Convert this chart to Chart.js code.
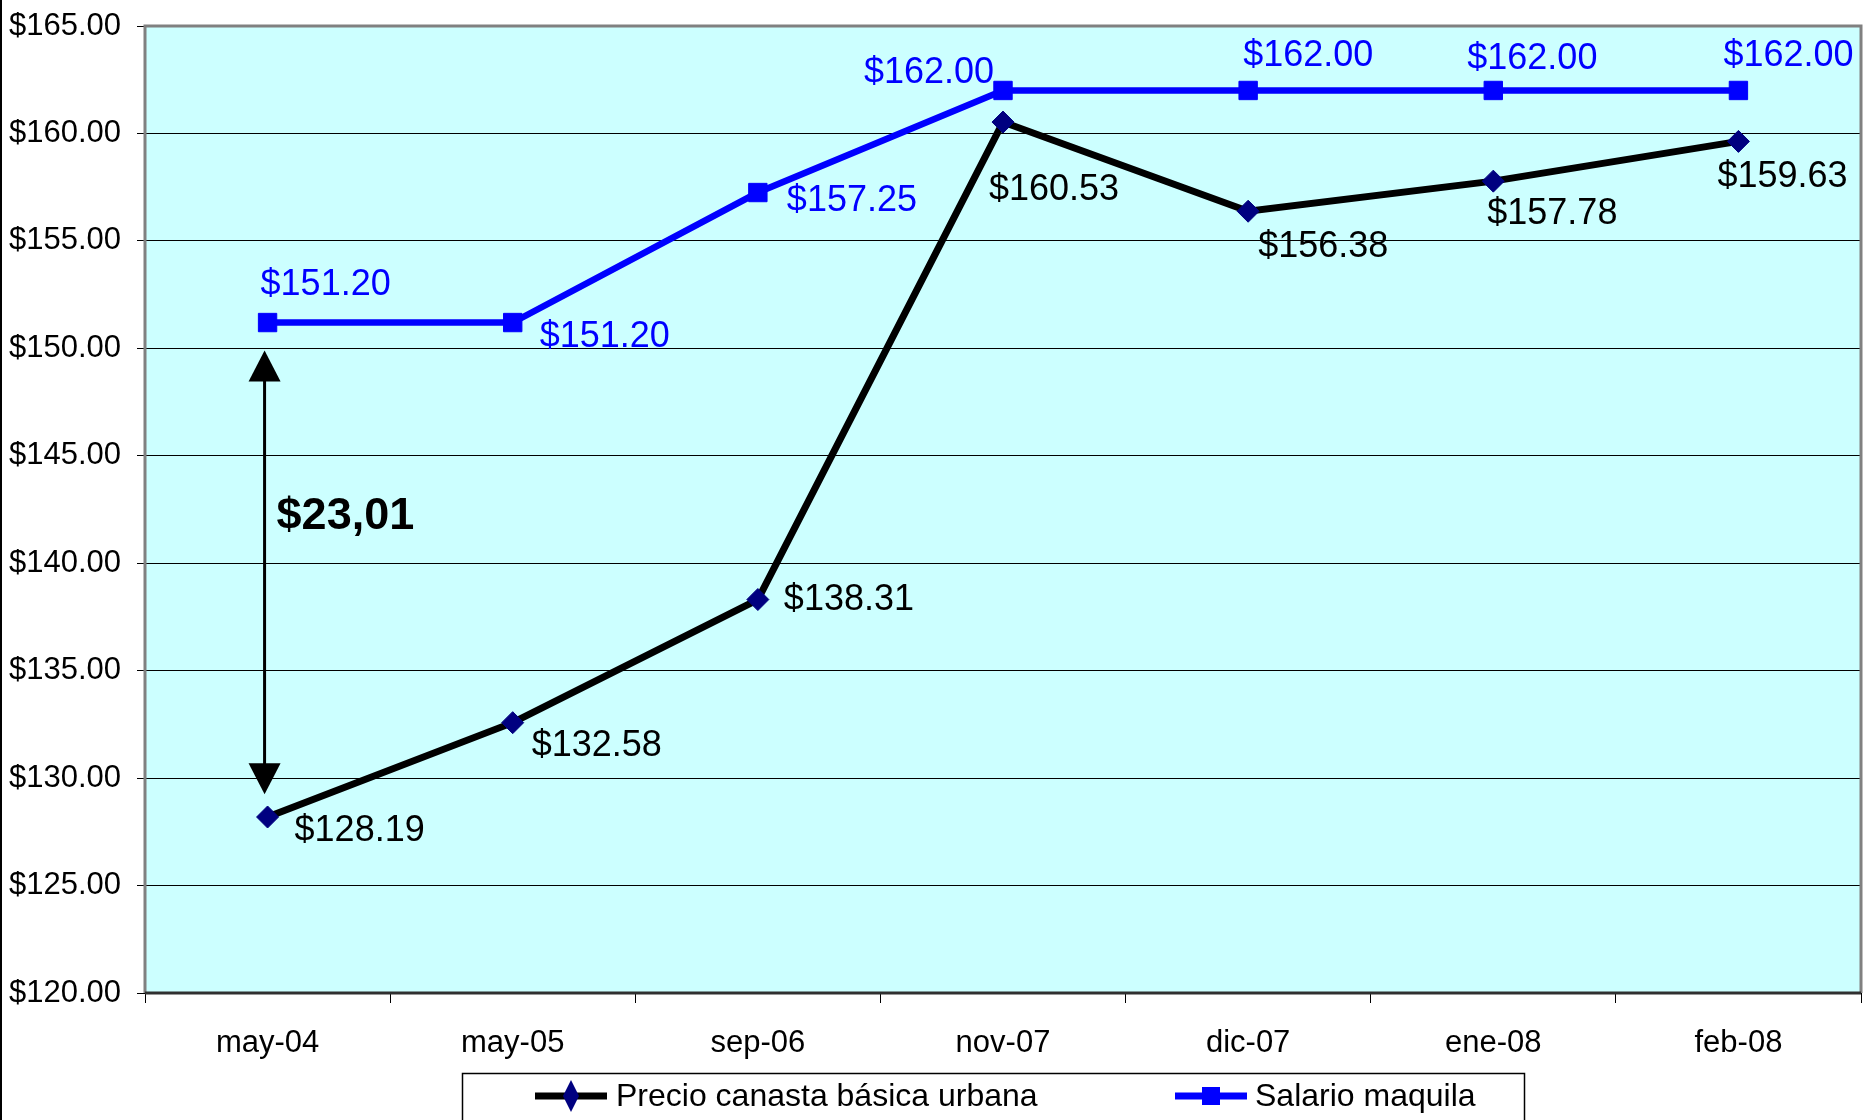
<!DOCTYPE html>
<html>
<head>
<meta charset="utf-8">
<script src="https://cdn.jsdelivr.net/npm/chart.js@4.4.1/dist/chart.umd.min.js"></script>
<style>
  html, body { margin: 0; padding: 0; background: #fff; }
  canvas { display: block; }
</style>
</head>
<body>
<canvas id="grafica" width="1864" height="1120"></canvas>
<script>
// datos
const categorias = ['may-04', 'may-05', 'sep-06', 'nov-07', 'dic-07', 'ene-08', 'feb-08'];
const precioCanasta = [128.19, 132.58, 138.31, 160.53, 156.38, 157.78, 159.63];
const salarioMaquila = [151.20, 151.20, 157.25, 162.00, 162.00, 162.00, 162.00];
const ticksY = [120, 125, 130, 135, 140, 145, 150, 155, 160, 165];
const nombres = ['Precio canasta básica urbana', 'Salario maquila'];
const brecha = '$23,01';
const flechaDesde = 149.9;
const flechaHasta = 129.25;

// desplazamiento de etiquetas respecto al punto (px)
const offPrecio = [[27, 14], [19, 23], [26, 1], [-14, 68], [10, 36], [-6, 33], [-21, 36]];
const offSalario = [[-7, -37], [27, 15], [29, 9], [-139, -17], [-5, -34], [-26, -31], [-15, -34]];

const FUENTE = '"Liberation Sans", Arial, sans-serif';
const dinero = v => '$' + v.toFixed(2);

const decorado = {
    id: 'decorado',
    beforeDraw(chart) {
        const { ctx, chartArea: a } = chart;
        ctx.save();
        ctx.fillStyle = '#CCFFFF';
        ctx.fillRect(a.left, a.top, a.right - a.left, a.bottom - a.top);
        ctx.restore();
    },
    beforeDatasetsDraw(chart) {
        const { ctx, chartArea: a } = chart;
        ctx.save();
        // marco del área
        ctx.strokeStyle = '#808080';
        ctx.lineWidth = 3;
        ctx.beginPath();
        ctx.moveTo(a.left, a.bottom);
        ctx.lineTo(a.left, a.top);
        ctx.lineTo(a.right, a.top);
        ctx.lineTo(a.right, a.bottom);
        ctx.stroke();
        ctx.strokeStyle = '#303030';
        ctx.beginPath();
        ctx.moveTo(a.left, a.bottom);
        ctx.lineTo(a.right, a.bottom);
        ctx.stroke();
        // borde izquierdo de la imagen
        ctx.strokeStyle = '#000';
        ctx.lineWidth = 2;
        ctx.beginPath();
        ctx.moveTo(1, 0);
        ctx.lineTo(1, chart.height);
        ctx.stroke();
        ctx.restore();
    },
    afterDatasetsDraw(chart) {
        const { ctx } = chart;
        const x = chart.scales.x, y = chart.scales.y;
        ctx.save();
        // flecha de la brecha
        const fx = x.getPixelForValue(0) - 3;
        const y1 = y.getPixelForValue(flechaDesde);
        const y2 = y.getPixelForValue(flechaHasta);
        ctx.strokeStyle = '#000';
        ctx.fillStyle = '#000';
        ctx.lineWidth = 3;
        ctx.beginPath();
        ctx.moveTo(fx, y1 + 25);
        ctx.lineTo(fx, y2 - 25);
        ctx.stroke();
        ctx.beginPath();
        ctx.moveTo(fx, y1);
        ctx.lineTo(fx - 16, y1 + 31);
        ctx.lineTo(fx + 16, y1 + 31);
        ctx.closePath();
        ctx.fill();
        ctx.beginPath();
        ctx.moveTo(fx, y2);
        ctx.lineTo(fx - 16, y2 - 31);
        ctx.lineTo(fx + 16, y2 - 31);
        ctx.closePath();
        ctx.fill();
        ctx.font = 'bold 45px ' + FUENTE;
        ctx.textBaseline = 'middle';
        ctx.textAlign = 'left';
        ctx.fillText(brecha, fx + 12, (y1 + y2) / 2 - 56);

        // etiquetas de datos
        ctx.font = '36px ' + FUENTE;
        const series = [[precioCanasta, offPrecio, '#000000'], [salarioMaquila, offSalario, '#0000FF']];
        series.forEach(([vals, offs, col], i) => {
            const meta = chart.getDatasetMeta(i);
            ctx.fillStyle = col;
            meta.data.forEach((p, j) => {
                ctx.fillText(dinero(vals[j]), p.x + offs[j][0], p.y + offs[j][1]);
            });
        });
        ctx.restore();
    },
    afterDraw(chart) {
        // leyenda con recuadro
        const { ctx } = chart;
        ctx.save();
        ctx.fillStyle = '#fff';
        ctx.fillRect(462, 1073, 1062, 60);
        ctx.strokeStyle = '#000';
        ctx.lineWidth = 1.5;
        ctx.strokeRect(462.5, 1073.5, 1062, 60);
        ctx.font = '32px ' + FUENTE;
        ctx.textBaseline = 'middle';
        ctx.textAlign = 'left';
        const items = [[535, 616], [1175, 1255]];
        chart.data.datasets.forEach((ds, i) => {
            const [lx, tx] = items[i];
            const ly = 1096;
            ctx.strokeStyle = ds.borderColor;
            ctx.lineWidth = 7;
            ctx.beginPath();
            ctx.moveTo(lx, ly);
            ctx.lineTo(lx + 72, ly);
            ctx.stroke();
            ctx.fillStyle = ds.pointBackgroundColor;
            ctx.beginPath();
            if (ds.pointStyle === 'rectRot') {
                ctx.moveTo(lx + 36, ly - 16);
                ctx.lineTo(lx + 44, ly);
                ctx.lineTo(lx + 36, ly + 16);
                ctx.lineTo(lx + 28, ly);
            } else {
                ctx.rect(lx + 27, ly - 9, 18, 18);
            }
            ctx.closePath();
            ctx.fill();
            ctx.fillStyle = '#000';
            ctx.fillText(ds.label, tx, ly + 1);
        });
        ctx.restore();
    }
};

new Chart(document.getElementById('grafica').getContext('2d'), {
    type: 'line',
    data: {
        labels: categorias,
        datasets: [{
            label: nombres[0],
            data: precioCanasta,
            borderColor: '#000000',
            borderWidth: 7,
            pointStyle: 'rectRot',
            pointRadius: 11,
            pointBackgroundColor: '#000080',
            pointBorderColor: '#000080',
            pointBorderWidth: 1,
            tension: 0
        }, {
            label: nombres[1],
            data: salarioMaquila,
            borderColor: '#0000FF',
            borderWidth: 6.5,
            pointStyle: 'rect',
            pointRadius: 13,
            pointBackgroundColor: '#0000FF',
            pointBorderColor: '#0000FF',
            pointBorderWidth: 1,
            tension: 0
        }]
    },
    options: {
        responsive: false,
        animation: false,
        layout: { autoPadding: false, padding: { left: 0, right: 3, top: 26, bottom: 0 } },
        plugins: {
            legend: { display: false },
            title: { display: false },
            tooltip: { enabled: false }
        },
        scales: {
            x: {
                offset: true,
                afterFit: s => { s.height = 127; s.paddingRight = 0; s.paddingLeft = 0; },
                grid: {
                    offset: true,
                    drawOnChartArea: false,
                    drawTicks: true,
                    tickLength: 10,
                    color: '#000',
                    lineWidth: 1
                },
                border: { display: false },
                ticks: {
                    color: '#000',
                    font: { family: FUENTE, size: 31 },
                    padding: 22,
                    maxRotation: 0,
                    autoSkip: false
                }
            },
            y: {
                min: 120,
                max: 165,
                afterFit: s => { s.width = 145; s.paddingTop = 0; s.paddingBottom = 0; },
                afterBuildTicks: s => { s.ticks = ticksY.map(v => ({ value: v })); },
                grid: {
                    color: '#000',
                    lineWidth: 1,
                    tickLength: 8
                },
                border: { display: false },
                ticks: {
                    color: '#000',
                    font: { family: FUENTE, size: 31 },
                    padding: 16,
                    callback: v => dinero(v)
                }
            }
        }
    },
    plugins: [decorado]
});
</script>
</body>
</html>
